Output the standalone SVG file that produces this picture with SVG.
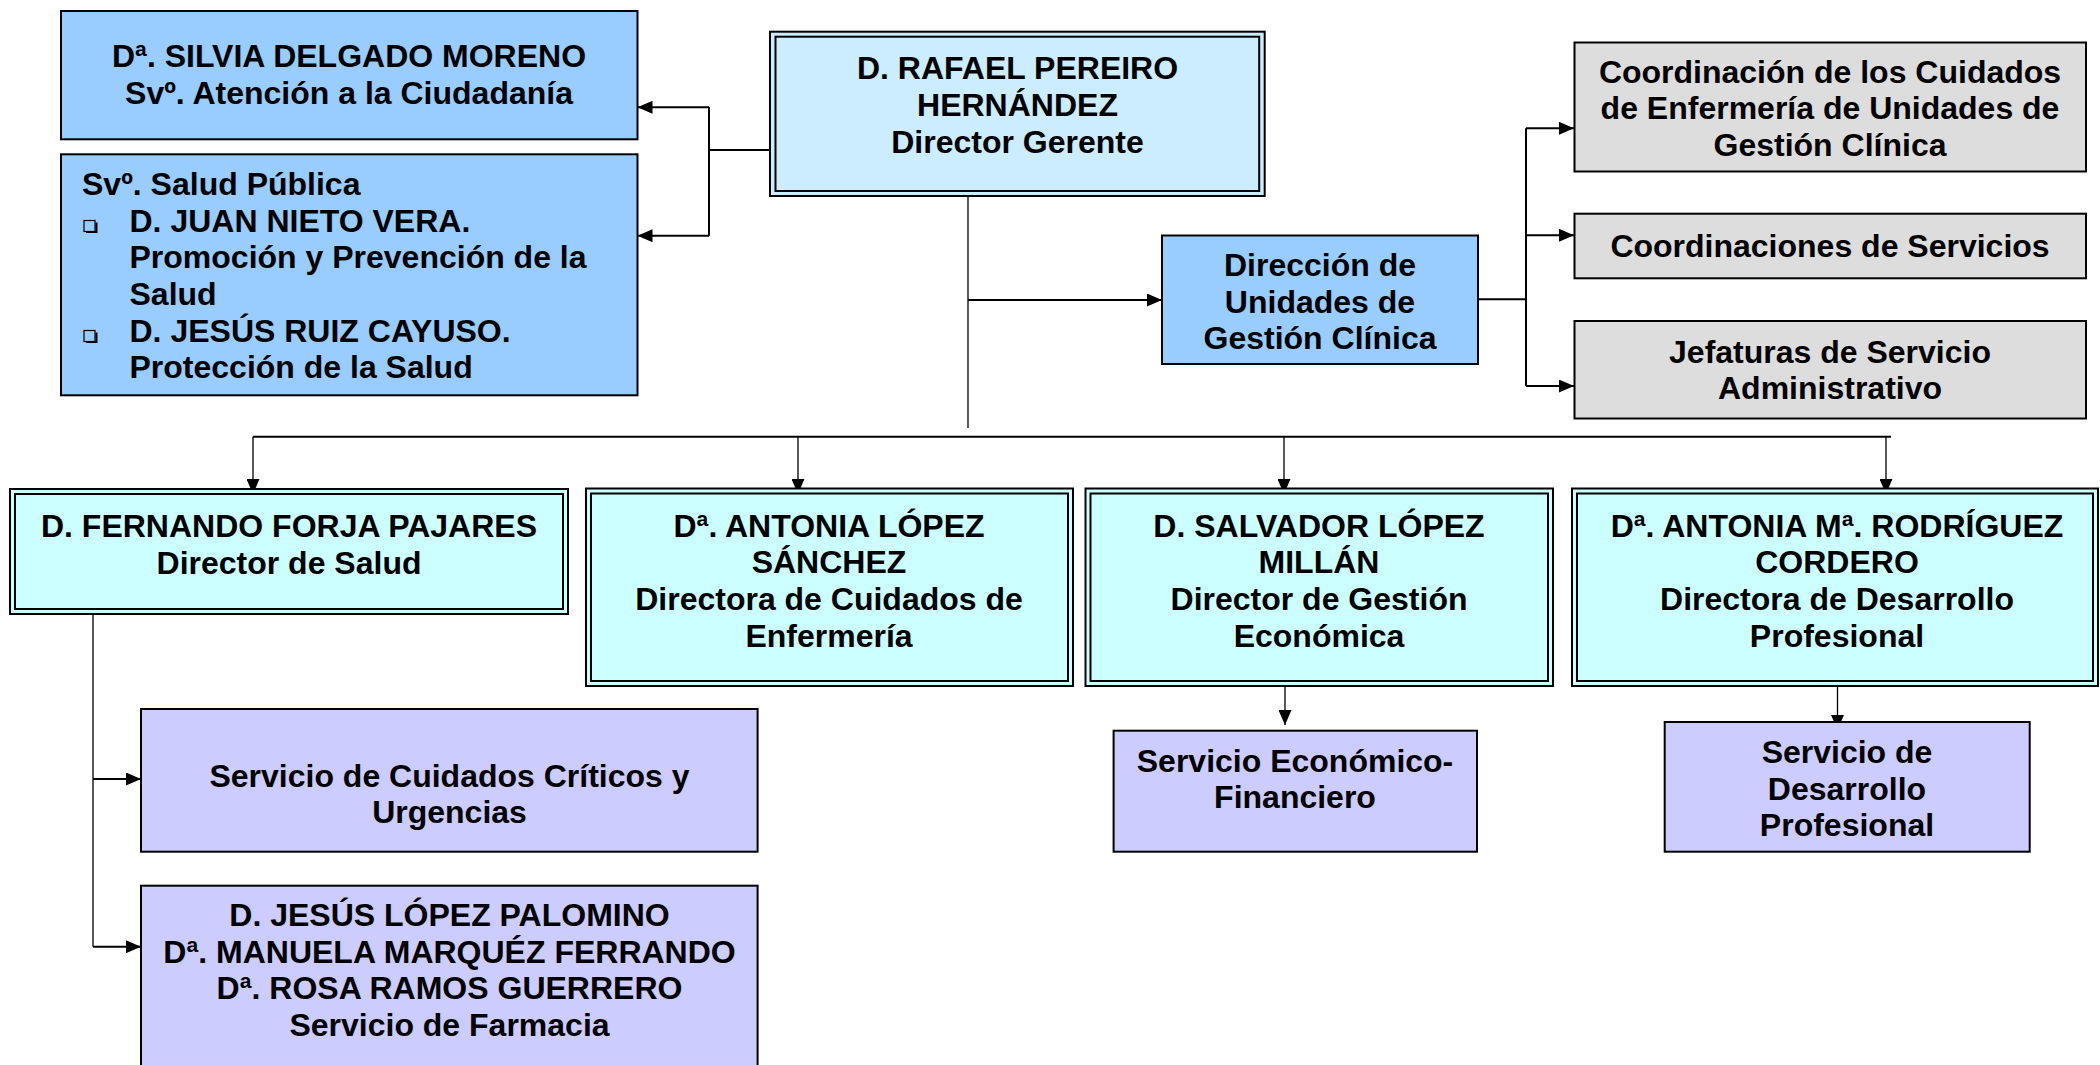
<svg xmlns="http://www.w3.org/2000/svg" width="2100" height="1065" viewBox="0 0 2100 1065">
<style>
text{font-family:"Liberation Sans",Arial,sans-serif;font-weight:bold;font-size:32px;fill:#000}
.c{text-anchor:middle}
.box{stroke:#000;stroke-width:2}
.blue{fill:#99CCFF}
.gray{fill:#DDDDDD}
.lav{fill:#CCCCFF}
.cyan{fill:#CCFFFF}
.ger{fill:#CCECFF}
.dbl{fill:none;stroke:#000;stroke-width:2}
.ln{fill:none;stroke:#000;stroke-width:2}
.thin{fill:none;stroke:#000;stroke-width:1.3}
</style>
<defs>
<marker id="ah" viewBox="0 0 15 13" refX="15" refY="6.5" markerWidth="15" markerHeight="13" markerUnits="userSpaceOnUse" orient="auto">
<path d="M0,0 L15,6.5 L0,13 z" fill="#000"/>
</marker>
</defs>

<g id="connectors">
<path class="ln" d="M778,150 H709 M709,107.3 V235.7"/>
<path class="ln" d="M709,107.3 H637.5" marker-end="url(#ah)"/>
<path class="ln" d="M709,235.7 H637.5" marker-end="url(#ah)"/>
<path class="thin" d="M968,196 V428"/>
<path class="ln" d="M968,300 H1162" marker-end="url(#ah)"/>
<path class="ln" d="M1478,299.3 H1526 M1526,128.3 V386"/>
<path class="ln" d="M1526,128.3 H1574" marker-end="url(#ah)"/>
<path class="ln" d="M1526,235.3 H1574" marker-end="url(#ah)"/>
<path class="ln" d="M1526,386 H1574" marker-end="url(#ah)"/>
<path class="ln" d="M253,436.7 H1891"/>
<path class="thin" d="M253,436.7 V494" marker-end="url(#ah)"/>
<path class="thin" d="M798,436.7 V494" marker-end="url(#ah)"/>
<path class="thin" d="M1284,436.7 V494" marker-end="url(#ah)"/>
<path class="thin" d="M1886,436.7 V494" marker-end="url(#ah)"/>
<path class="thin" d="M93,614 V946.7"/>
<path class="ln" d="M93,779 H141" marker-end="url(#ah)"/>
<path class="ln" d="M93,946.7 H141" marker-end="url(#ah)"/>
<path class="thin" d="M1285,686.7 V725" marker-end="url(#ah)"/>
<path class="thin" d="M1837.5,686 V730" marker-end="url(#ah)"/>
</g>

<g id="silvia">
<rect class="box blue" x="61" y="11" width="576.5" height="128.3"/>
<text class="c" x="349" y="67">Dª. SILVIA DELGADO MORENO</text>
<text class="c" x="349" y="104">Svº. Atención a la Ciudadanía</text>
</g>

<g id="salud-publica">
<rect class="box blue" x="61" y="154.3" width="576.5" height="241"/>
<text x="82" y="195">Svº. Salud Pública</text>
<rect x="84" y="220.5" width="11" height="11" fill="none" stroke="#000" stroke-width="1.2"/>
<path d="M86,232 H96.5 V222.5" fill="none" stroke="#000" stroke-width="2"/>
<text x="129.5" y="231.5">D. JUAN NIETO VERA.</text>
<text x="129.5" y="268">Promoción y Prevención de la</text>
<text x="129.5" y="304.7">Salud</text>
<rect x="84" y="330.5" width="11" height="11" fill="none" stroke="#000" stroke-width="1.2"/>
<path d="M86,342 H96.5 V332.5" fill="none" stroke="#000" stroke-width="2"/>
<text x="129.5" y="341.7">D. JESÚS RUIZ CAYUSO.</text>
<text x="129.5" y="378.4">Protección de la Salud</text>
</g>

<g id="gerente">
<rect class="box ger" x="770" y="31.7" width="494.7" height="164.3"/>
<rect class="dbl" x="775.5" y="36.7" width="483.7" height="154.3"/>
<text class="c" x="1017.5" y="79">D. RAFAEL PEREIRO</text>
<text class="c" x="1017.5" y="115.5">HERNÁNDEZ</text>
<text class="c" x="1017.5" y="152.5">Director Gerente</text>
</g>

<g id="direccion-ugc">
<rect class="box blue" x="1162" y="235.5" width="316" height="128.5"/>
<text class="c" x="1320" y="276">Dirección de</text>
<text class="c" x="1320" y="312.5">Unidades de</text>
<text class="c" x="1320" y="349">Gestión Clínica</text>
</g>

<g id="coord-cuidados">
<rect class="box gray" x="1574.5" y="42.5" width="511.5" height="129"/>
<text class="c" x="1830" y="82.5">Coordinación de los Cuidados</text>
<text class="c" x="1830" y="119.3">de Enfermería de Unidades de</text>
<text class="c" x="1830" y="156">Gestión Clínica</text>
</g>

<g id="coord-servicios">
<rect class="box gray" x="1574.5" y="213.7" width="511.5" height="64.6"/>
<text class="c" x="1830" y="256.5">Coordinaciones de Servicios</text>
</g>

<g id="jefaturas">
<rect class="box gray" x="1574.5" y="321" width="511.5" height="97.5"/>
<text class="c" x="1830" y="362.5">Jefaturas de Servicio</text>
<text class="c" x="1830" y="399">Administrativo</text>
</g>

<g id="fernando">
<rect class="box cyan" x="10" y="489" width="558" height="125"/>
<rect class="dbl" x="15" y="494" width="548" height="115"/>
<text class="c" x="289" y="536.5">D. FERNANDO FORJA PAJARES</text>
<text class="c" x="289" y="574">Director de Salud</text>
</g>

<g id="antonia-lopez">
<rect class="box cyan" x="586" y="488.5" width="487" height="197.5"/>
<rect class="dbl" x="591" y="493.5" width="477" height="187.5"/>
<text class="c" x="829" y="536.5">Dª. ANTONIA LÓPEZ</text>
<text class="c" x="829" y="573.2">SÁNCHEZ</text>
<text class="c" x="829" y="609.9">Directora de Cuidados de</text>
<text class="c" x="829" y="646.6">Enfermería</text>
</g>

<g id="salvador">
<rect class="box cyan" x="1085.5" y="488.5" width="467.5" height="197.5"/>
<rect class="dbl" x="1090.5" y="493.5" width="457.5" height="187.5"/>
<text class="c" x="1319" y="536.5">D. SALVADOR LÓPEZ</text>
<text class="c" x="1319" y="573.2">MILLÁN</text>
<text class="c" x="1319" y="609.9">Director de Gestión</text>
<text class="c" x="1319" y="646.6">Económica</text>
</g>

<g id="rodriguez">
<rect class="box cyan" x="1572" y="488.5" width="526" height="197.5"/>
<rect class="dbl" x="1577" y="493.5" width="516" height="187.5"/>
<text class="c" x="1837" y="536.5">Dª. ANTONIA Mª. RODRÍGUEZ</text>
<text class="c" x="1837" y="573.2">CORDERO</text>
<text class="c" x="1837" y="609.9">Directora de Desarrollo</text>
<text class="c" x="1837" y="646.6">Profesional</text>
</g>

<g id="cuidados-criticos">
<rect class="box lav" x="141" y="709" width="616.6" height="142.7"/>
<text class="c" x="449.5" y="786.5">Servicio de Cuidados Críticos y</text>
<text class="c" x="449.5" y="823.2">Urgencias</text>
</g>

<g id="farmacia">
<rect class="box lav" x="141" y="885.7" width="616.6" height="200"/>
<text class="c" x="449.5" y="926">D. JESÚS LÓPEZ PALOMINO</text>
<text class="c" x="449.5" y="962.7">Dª. MANUELA MARQUÉZ FERRANDO</text>
<text class="c" x="449.5" y="999.4">Dª. ROSA RAMOS GUERRERO</text>
<text class="c" x="449.5" y="1036.1">Servicio de Farmacia</text>
</g>

<g id="economico">
<rect class="box lav" x="1113.6" y="730.7" width="363.4" height="121"/>
<text class="c" x="1295" y="771.5">Servicio Económico-</text>
<text class="c" x="1295" y="808.2">Financiero</text>
</g>

<g id="desarrollo">
<rect class="box lav" x="1664.7" y="722" width="365" height="129.7"/>
<text class="c" x="1847" y="763">Servicio de</text>
<text class="c" x="1847" y="799.7">Desarrollo</text>
<text class="c" x="1847" y="836.4">Profesional</text>
</g>
</svg>
